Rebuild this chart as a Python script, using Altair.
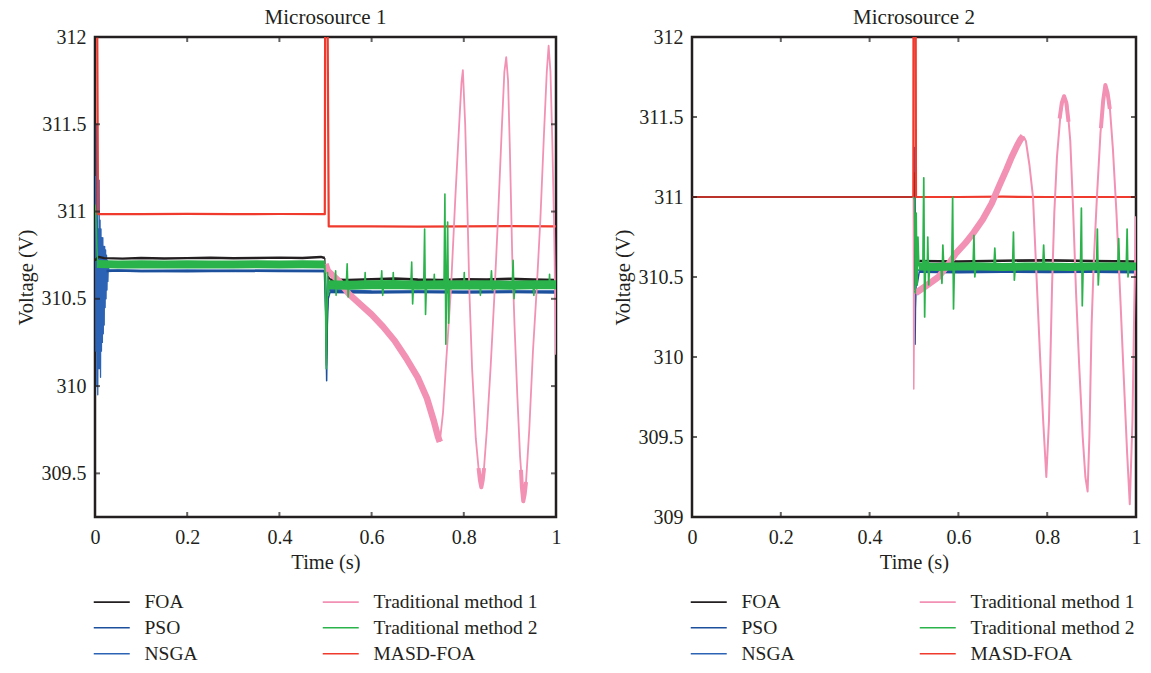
import altair as alt
import pandas as pd

SERIF = "Liberation Serif"
INK = "#231f20"

LEGEND_ORDER = ["FOA", "Traditional method 1", "PSO", "Traditional method 2", "NSGA", "MASD-FOA"]
DRAW_ORDER = ["NSGA", "PSO", "FOA", "MASD-FOA", "Traditional method 1", "Traditional method 2"]
COLORS = {
    "FOA": "#231f20",
    "PSO": "#1c4f9c",
    "NSGA": "#2d63b4",
    "Traditional method 1": "#f291b3",
    "Traditional method 2": "#2bb34b",
    "MASD-FOA": "#ef3a2d",
}

X_TICKS = [0, 0.2, 0.4, 0.6, 0.8, 1]
M1_Y_TICKS = [309.5, 310, 310.5, 311, 311.5, 312]
M2_Y_TICKS = [309, 309.5, 310, 310.5, 311, 311.5, 312]
M1_Y_DOMAIN = [309.25, 312]
M2_Y_DOMAIN = [309, 312]

# ---------------- Microsource 1 (t, V) ----------------
M1_RED = [(0.0, 312.6), (0.004, 312.6), (0.0065, 310.985), (0.1, 310.985), (0.2, 310.987),
          (0.3, 310.985), (0.4, 310.986), (0.4985, 310.985), (0.4995, 312.6), (0.5035, 312.6),
          (0.507, 310.915), (0.6, 310.915), (0.7, 310.914), (0.8, 310.915), (0.9, 310.916), (1.0, 310.915)]

M1_FOA_A = [(0.0, 310.72), (0.008, 310.74), (0.02, 310.733), (0.06, 310.73), (0.1, 310.734),
            (0.15, 310.731), (0.2, 310.733), (0.25, 310.735), (0.3, 310.732), (0.35, 310.734),
            (0.4, 310.736), (0.45, 310.734), (0.49, 310.74), (0.4985, 310.734)]
M1_FOA_T = [(0.4985, 310.734), (0.5005, 310.5), (0.502, 310.12), (0.5035, 310.45), (0.506, 310.63), (0.51, 310.61)]
M1_FOA_B = [(0.51, 310.61), (0.55, 310.608), (0.6, 310.612), (0.65, 310.616), (0.7, 310.61), (0.75, 310.608),
            (0.8, 310.612), (0.85, 310.61), (0.9, 310.614), (0.95, 310.61), (1.0, 310.608)]

M1_PSO_A = [(0.025, 310.66), (0.05, 310.662), (0.1, 310.66), (0.2, 310.658), (0.3, 310.661), (0.4, 310.659), (0.4985, 310.66)]
M1_PSO_T = [(0.4985, 310.66), (0.5005, 310.4), (0.5025, 310.03), (0.504, 310.35), (0.506, 310.5), (0.51, 310.54)]
M1_PSO_B = [(0.51, 310.54), (0.6, 310.538), (0.7, 310.54), (0.8, 310.537), (0.9, 310.54), (1.0, 310.538)]

M1_NSGA_E = [(0.000, 310.8), (0.001, 311.2), (0.002, 310.2), (0.003, 311.5), (0.004, 310.0), (0.005, 311.0),
             (0.006, 309.95), (0.007, 310.9), (0.008, 310.1), (0.009, 311.18), (0.010, 310.1), (0.011, 310.95),
             (0.012, 310.05), (0.013, 310.9), (0.014, 310.2), (0.015, 310.85), (0.016, 310.25), (0.017, 310.85),
             (0.018, 310.3), (0.019, 310.8), (0.020, 310.35), (0.021, 310.8), (0.022, 310.45), (0.023, 310.78),
             (0.024, 310.5), (0.025, 310.75), (0.026, 310.55), (0.027, 310.72), (0.028, 310.6), (0.029, 310.7),
             (0.030, 310.66)]
M1_NSGA_A = [(0.03, 310.662), (0.1, 310.66), (0.2, 310.662), (0.3, 310.66), (0.4, 310.661), (0.4985, 310.66)]
M1_NSGA_B = [(0.4985, 310.66), (0.502, 310.4), (0.506, 310.55), (0.6, 310.542), (0.8, 310.54), (1.0, 310.542)]

M1_TR2_E = [(0.0, 311.04), (0.002, 310.98), (0.004, 310.8), (0.006, 310.7)]
M1_TR2_A = [(0.004, 310.7), (0.05, 310.697), (0.1, 310.698), (0.15, 310.696), (0.2, 310.698), (0.25, 310.697),
            (0.3, 310.696), (0.35, 310.698), (0.4, 310.697), (0.45, 310.698), (0.4985, 310.697)]
M1_TR2_T = [(0.4985, 310.697), (0.5, 310.5), (0.5015, 310.1), (0.503, 310.35), (0.5045, 310.65), (0.506, 310.52), (0.508, 310.58)]
M1_TR2_B = [(0.506, 310.58), (0.55, 310.578), (0.6, 310.58), (0.65, 310.582), (0.7, 310.578), (0.75, 310.58),
            (0.8, 310.579), (0.85, 310.58), (0.9, 310.578), (0.95, 310.58), (1.0, 310.58)]
M1_TR2_S = [(0.508, 310.58), (0.521, 310.58), (0.522, 310.66), (0.523, 310.52), (0.524, 310.58),
            (0.545, 310.58), (0.547, 310.70), (0.549, 310.51), (0.551, 310.58),
            (0.585, 310.58), (0.586, 310.65), (0.587, 310.58),
            (0.62, 310.58), (0.622, 310.66), (0.624, 310.52), (0.626, 310.58),
            (0.646, 310.58), (0.647, 310.65), (0.648, 310.58),
            (0.685, 310.58), (0.687, 310.71), (0.689, 310.47), (0.691, 310.58),
            (0.713, 310.58), (0.715, 310.90), (0.717, 310.41), (0.719, 310.58),
            (0.735, 310.58), (0.736, 310.64), (0.737, 310.58),
            (0.757, 310.58), (0.759, 311.10), (0.761, 310.24), (0.763, 310.62), (0.765, 310.94), (0.767, 310.36),
            (0.769, 310.6), (0.771, 310.58),
            (0.8, 310.58), (0.801, 310.65), (0.802, 310.58),
            (0.835, 310.58), (0.836, 310.52), (0.837, 310.58),
            (0.858, 310.58), (0.86, 310.66), (0.862, 310.55), (0.864, 310.58),
            (0.905, 310.58), (0.907, 310.72), (0.909, 310.5), (0.911, 310.58),
            (0.95, 310.58), (0.952, 310.52), (0.954, 310.6), (0.956, 310.58),
            (0.985, 310.58), (0.986, 310.64), (0.987, 310.58), (1.0, 310.58)]

M1_TR1_THICK = [(0.5, 310.7), (0.505, 310.66), (0.53, 310.6), (0.55, 310.53), (0.575, 310.47), (0.6, 310.41),
                (0.625, 310.34), (0.65, 310.26), (0.675, 310.16), (0.7, 310.05), (0.72, 309.93), (0.735, 309.8),
                (0.744, 309.71), (0.748, 309.68)]
M1_TR1_THIN = [(0.748, 309.68), (0.755, 309.85), (0.762, 310.15), (0.772, 310.55), (0.782, 311.1), (0.79, 311.5),
               (0.795, 311.74), (0.798, 311.81), (0.803, 311.5), (0.808, 311.0), (0.812, 310.55), (0.818, 310.1),
               (0.826, 309.7), (0.833, 309.5), (0.838, 309.42), (0.843, 309.5), (0.85, 309.75), (0.858, 310.1),
               (0.866, 310.5), (0.874, 310.95), (0.882, 311.45), (0.888, 311.8), (0.892, 311.885), (0.896, 311.75),
               (0.9, 311.35), (0.905, 310.75), (0.91, 310.35), (0.916, 309.95), (0.922, 309.6), (0.929, 309.34),
               (0.935, 309.45), (0.942, 309.75), (0.95, 310.2), (0.958, 310.55), (0.966, 310.95), (0.974, 311.45),
               (0.98, 311.8), (0.984, 311.95), (0.988, 311.8), (0.992, 311.4), (0.996, 310.9), (1.0, 310.18)]
M1_TR1_MIN2 = [(0.832, 309.53), (0.835, 309.46), (0.838, 309.42), (0.841, 309.46), (0.844, 309.53)]
M1_TR1_MIN3 = [(0.924, 309.52), (0.926, 309.42), (0.929, 309.34), (0.932, 309.38), (0.935, 309.45)]

# ---------------- Microsource 2 (t, V) ----------------
M2_RED_PRE = [(0.0, 311.0), (0.4985, 311.0)]
M2_RED = [(0.4985, 311.0), (0.499, 312.6), (0.5035, 312.6), (0.5045, 311.0), (0.6, 311.0), (0.7, 311.002),
          (0.8, 311.0), (0.9, 311.0), (1.0, 311.0)]

M2_FOA_PRE = [(0.0, 311.0), (0.4995, 311.0)]
M2_FOA_T = [(0.4995, 311.0), (0.501, 311.15), (0.503, 310.45), (0.505, 310.7), (0.508, 310.58), (0.512, 310.6)]
M2_FOA_B = [(0.512, 310.6), (0.6, 310.597), (0.7, 310.602), (0.8, 310.604), (0.9, 310.6), (1.0, 310.597)]

M2_PSO_T = [(0.4995, 311.0), (0.501, 311.31), (0.5025, 310.08), (0.504, 310.5), (0.507, 310.45), (0.512, 310.535)]
M2_PSO_B = [(0.512, 310.535), (0.6, 310.532), (0.7, 310.535), (0.8, 310.533), (0.9, 310.535), (1.0, 310.532)]

M2_NSGA_T = [(0.4995, 311.0), (0.5015, 311.2), (0.503, 310.3), (0.506, 310.55), (0.512, 310.54)]
M2_NSGA_B = [(0.512, 310.54), (0.7, 310.538), (1.0, 310.54)]

M2_TR2_T = [(0.4995, 311.0), (0.501, 310.98), (0.503, 310.4), (0.505, 310.9), (0.507, 310.45), (0.509, 310.75), (0.511, 310.565)]
M2_TR2_B = [(0.511, 310.565), (0.55, 310.563), (0.6, 310.566), (0.65, 310.565), (0.7, 310.562), (0.75, 310.566),
            (0.8, 310.565), (0.85, 310.563), (0.9, 310.566), (0.95, 310.565), (1.0, 310.565)]
M2_TR2_S = [(0.511, 310.565), (0.52, 310.565), (0.522, 311.12), (0.524, 310.25), (0.526, 310.6), (0.53, 310.565),
            (0.531, 310.75), (0.533, 310.45), (0.535, 310.565), (0.561, 310.565), (0.563, 310.46), (0.565, 310.7),
            (0.567, 310.565), (0.585, 310.565), (0.587, 311.0), (0.589, 310.3), (0.591, 310.565), (0.633, 310.565),
            (0.635, 310.76), (0.637, 310.5), (0.639, 310.565), (0.68, 310.565), (0.682, 310.68), (0.684, 310.565),
            (0.722, 310.565), (0.724, 310.78), (0.726, 310.48), (0.728, 310.565), (0.79, 310.565), (0.792, 310.7),
            (0.794, 310.565), (0.875, 310.565), (0.877, 310.93), (0.879, 310.32), (0.881, 310.565), (0.911, 310.565),
            (0.913, 310.8), (0.915, 310.45), (0.917, 310.565), (0.959, 310.565), (0.961, 310.74), (0.963, 310.565),
            (0.978, 310.565), (0.98, 310.8), (0.982, 310.5), (0.984, 310.565), (1.0, 310.565)]

M2_TR1_T = [(0.4985, 311.0), (0.4995, 309.8), (0.501, 310.4), (0.504, 310.4)]
M2_TR1_THICK = [(0.504, 310.4), (0.53, 310.45), (0.555, 310.5), (0.575, 310.57), (0.595, 310.65), (0.615, 310.71),
                (0.635, 310.78), (0.655, 310.86), (0.675, 310.96), (0.692, 311.07), (0.708, 311.17), (0.72, 311.25),
                (0.732, 311.32), (0.74, 311.36), (0.746, 311.38)]
M2_TR1_THIN = [(0.746, 311.38), (0.752, 311.35), (0.76, 311.2), (0.768, 311.0), (0.776, 310.5), (0.784, 310.0),
               (0.791, 309.6), (0.798, 309.25), (0.804, 309.6), (0.811, 310.45), (0.816, 310.9), (0.822, 311.25),
               (0.83, 311.52), (0.838, 311.63), (0.845, 311.58), (0.852, 311.35), (0.858, 310.95), (0.865, 310.4),
               (0.872, 309.95), (0.88, 309.5), (0.886, 309.25), (0.891, 309.16), (0.895, 309.5), (0.9, 310.2),
               (0.905, 310.6), (0.912, 311.0), (0.92, 311.4), (0.926, 311.6), (0.931, 311.7), (0.94, 311.6),
               (0.948, 311.3), (0.956, 310.9), (0.965, 310.35), (0.972, 309.9), (0.98, 309.4), (0.986, 309.08),
               (0.992, 309.6), (0.996, 310.3), (1.0, 310.88)]
M2_TR1_PK2 = [(0.828, 311.49), (0.833, 311.59), (0.838, 311.63), (0.843, 311.59), (0.848, 311.47)]
M2_TR1_PK3 = [(0.921, 311.43), (0.926, 311.6), (0.931, 311.7), (0.936, 311.65), (0.941, 311.55)]

rows = []


def add(panel, series, name, pts, w, op=1.0):
    for t, v in pts:
        rows.append({"panel": panel, "series": series, "seg": f"{panel}-{series}-{name}",
                     "t": t, "v": v, "w": w, "op": op})


P1, P2 = "Microsource 1", "Microsource 2"
add(P1, "MASD-FOA", "a", M1_RED, 2.2)
add(P1, "FOA", "a", M1_FOA_A, 2.4)
add(P1, "FOA", "t", M1_FOA_T, 1.3)
add(P1, "FOA", "b", M1_FOA_B, 2.6)
add(P1, "PSO", "a", M1_PSO_A, 2.5)
add(P1, "PSO", "t", M1_PSO_T, 1.5)
add(P1, "PSO", "b", M1_PSO_B, 3)
add(P1, "NSGA", "e", M1_NSGA_E, 1.3)
add(P1, "NSGA", "a", M1_NSGA_A, 2.5)
add(P1, "NSGA", "b", M1_NSGA_B, 2.5)
add(P1, "Traditional method 2", "e", M1_TR2_E, 1.5)
add(P1, "Traditional method 2", "a", M1_TR2_A, 8)
add(P1, "Traditional method 2", "t", M1_TR2_T, 1.6)
add(P1, "Traditional method 2", "b", M1_TR2_B, 9)
add(P1, "Traditional method 2", "s", M1_TR2_S, 1.6)
add(P1, "Traditional method 1", "k", M1_TR1_THICK, 6.5)
add(P1, "Traditional method 1", "n", M1_TR1_THIN, 1.8)
add(P1, "Traditional method 1", "m2", M1_TR1_MIN2, 4)
add(P1, "Traditional method 1", "m3", M1_TR1_MIN3, 4)

add(P2, "MASD-FOA", "pre", M2_RED_PRE, 2, 0.75)
add(P2, "MASD-FOA", "a", M2_RED, 2.2)
add(P2, "FOA", "pre", M2_FOA_PRE, 2)
add(P2, "FOA", "t", M2_FOA_T, 1.3)
add(P2, "FOA", "b", M2_FOA_B, 2.6)
add(P2, "PSO", "t", M2_PSO_T, 1.5)
add(P2, "PSO", "b", M2_PSO_B, 3)
add(P2, "NSGA", "t", M2_NSGA_T, 1.3)
add(P2, "NSGA", "b", M2_NSGA_B, 2.5)
add(P2, "Traditional method 2", "t", M2_TR2_T, 1.6)
add(P2, "Traditional method 2", "b", M2_TR2_B, 8)
add(P2, "Traditional method 2", "s", M2_TR2_S, 1.7)
add(P2, "Traditional method 1", "t", M2_TR1_T, 1.5)
add(P2, "Traditional method 1", "k", M2_TR1_THICK, 6.5)
add(P2, "Traditional method 1", "n", M2_TR1_THIN, 2)
add(P2, "Traditional method 1", "p2", M2_TR1_PK2, 4)
add(P2, "Traditional method 1", "p3", M2_TR1_PK3, 4)

df = pd.DataFrame(rows)


def panel(name, ydom, yticks, W, H):
    data = df[df["panel"] == name]
    x_enc = alt.X("t:Q", scale=alt.Scale(domain=[0, 1], nice=False, zero=False),
                  axis=alt.Axis(values=X_TICKS, format="~g", domain=False, ticks=False, grid=False,
                                labelPadding=10, labelFlush=False, labelOverlap=False,
                                title="Time (s)", titlePadding=5.5))
    y_enc = alt.Y("v:Q", scale=alt.Scale(domain=ydom, nice=False, zero=False),
                  axis=alt.Axis(values=yticks, format="~g", domain=False, ticks=False, grid=False,
                                labelPadding=9, labelFlush=False, labelOverlap=False,
                                title="Voltage (V)", titlePadding=5))
    color = alt.Color("series:N",
                      scale=alt.Scale(domain=LEGEND_ORDER, range=[COLORS[s] for s in LEGEND_ORDER]),
                      legend=alt.Legend(title=None, orient="bottom", columns=2, symbolType="M-3,0H3",
                                        symbolSize=144, symbolStrokeWidth=1.6, symbolOffset=7,
                                        labelFont=SERIF, labelFontSize=19.5, labelColor=INK,
                                        labelOffset=23, columnPadding=121, rowPadding=5, offset=19,
                                        labelLimit=400))
    layers = []
    for s in DRAW_ORDER:
        layers.append(
            alt.Chart(data).transform_filter(alt.datum.series == s)
            .mark_line(clip=True, strokeJoin="round")
            .encode(x=x_enc, y=y_enc, color=color, detail="seg:N",
                    strokeWidth=alt.StrokeWidth("w:Q", scale=None, legend=None),
                    opacity=alt.Opacity("op:Q", scale=None, legend=None))
        )
    xt = pd.DataFrame({"t": X_TICKS})
    yt = pd.DataFrame({"v": yticks})
    tick = dict(color=INK, thickness=2, size=5)
    layers.append(alt.Chart(xt).mark_tick(orient="vertical", **tick).encode(x=x_enc, y=alt.value(2.5)))
    layers.append(alt.Chart(xt).mark_tick(orient="vertical", **tick).encode(x=x_enc, y=alt.value(H - 2.5)))
    layers.append(alt.Chart(yt).mark_tick(orient="horizontal", **tick).encode(y=y_enc, x=alt.value(2.5)))
    layers.append(alt.Chart(yt).mark_tick(orient="horizontal", **tick).encode(y=y_enc, x=alt.value(W - 2.5)))
    return alt.layer(*layers).properties(
        width=W, height=H,
        title=alt.TitleParams(name, font=SERIF, fontSize=21, fontWeight="normal", color=INK, offset=-1),
    )


left = panel(P1, M1_Y_DOMAIN, M1_Y_TICKS, 461, 480)
right = panel(P2, M2_Y_DOMAIN, M2_Y_TICKS, 444, 480)

chart = (
    alt.hconcat(left, right, spacing=48)
    .resolve_scale(color="independent")
    .properties(padding={"left": 6, "top": -3, "right": 0, "bottom": 0}, background="white")
    .configure_view(stroke=INK, strokeWidth=2.5)
    .configure_axis(labelFont=SERIF, labelFontSize=20, labelColor=INK, titleFont=SERIF,
                    titleFontSize=20.5, titleFontWeight="normal", titleColor=INK)
)

chart.save("out.html", embed_options={"renderer": "svg", "actions": False})
